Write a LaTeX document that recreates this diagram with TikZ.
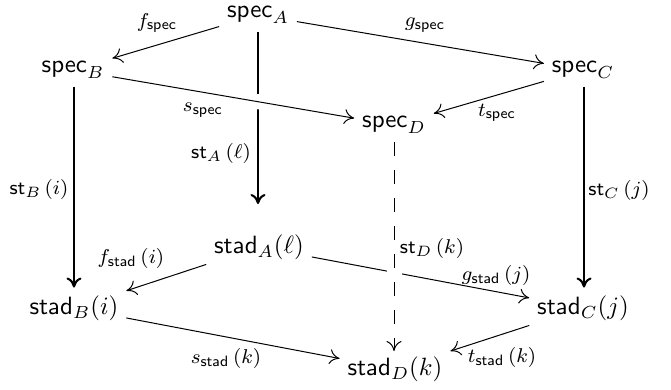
\documentclass[tikz,border=0pt]{standalone}
\usetikzlibrary{arrows.meta}
\begin{document}
\begin{tikzpicture}[x=0.4pt,y=-0.4pt,
  obj/.style={font=\sffamily, inner sep=3pt},
  lbl/.style={font=\footnotesize, inner sep=0pt},
  arr/.style={-{To[length=4pt,width=6pt]}, line width=0.4pt},
  varr/.style={-{To[length=4pt,width=6pt]}, line width=0.8pt},
  front/.style={preaction={draw,white,line width=6pt,-,solid}},
  dsh/.style={dash pattern=on 5.6pt off 5.6pt}]
\useasboundingbox (0,0) rectangle (671,389);
% objects
\node[obj] (sA) at (258,15) {$\mathsf{spec}_A$};
\node[obj] (sB) at (73,70) {$\mathsf{spec}_B$};
\node[obj] (sC) at (583,70) {$\mathsf{spec}_C$};
\node[obj] (sD) at (394,125) {$\mathsf{spec}_D$};
\node[obj] (tA) at (259,247) {$\mathsf{stad}_A(\ell)$};
\node[obj] (tB) at (74,308) {$\mathsf{stad}_B(i)$};
\node[obj] (tC) at (583,308) {$\mathsf{stad}_C(j)$};
\node[obj] (tD) at (395,369) {$\mathsf{stad}_D(k)$};
\coordinate (dtop) at (394,142);
\coordinate (dbot) at (394,351);
% back edges
\draw[varr, shorten >=9pt] (sA.south -| 258,0) -- (tA.north -| 258,0);
\draw[arr] (tA) -- (tC);
% other edges
\draw[arr] (sA) -- (sB);
\draw[arr] (sA) -- (sC);
\draw[arr, front] (sB) -- (sD);
\draw[arr] (sC) -- (sD);
\draw[varr] (sB.south -| 74,0) -- (tB.north -| 74,0);
\draw[varr] (sC.south -| 584,0) -- (tC.north -| 584,0);
\draw[arr, dsh, front] (dtop) -- (dbot);
\draw[arr] (tA) -- (tB);
\draw[arr] (tB) -- (tD);
\draw[arr] (tC) -- (tD);
% labels
\node[lbl] (lf) at (157,23) {$f_{\mathsf{spec}}$};
\node[lbl] (lg) at (425,25) {$g_{\mathsf{spec}}$};
\node[lbl] (ls) at (203,110) {$s_{\mathsf{spec}}$};
\node[lbl] (lt) at (497,113) {$t_{\mathsf{spec}}$};
\node[lbl] (lA) at (221,153) {$\mathsf{st}_A\,(\ell)$};
\node[lbl] (lB) at (39,189) {$\mathsf{st}_B\,(i)$};
\node[lbl] (lC) at (619,190) {$\mathsf{st}_C\,(j)$};
\node[lbl] (lD) at (432,248) {$\mathsf{st}_D\,(k)$};
\node[lbl] (lf2) at (131,258) {$f_{\mathsf{stad}}\,(i)$};
\node[lbl] (lg2) at (496,275) {$g_{\mathsf{stad}}\,(j)$};
\node[lbl] (ls2) at (226,358) {$s_{\mathsf{stad}}\,(k)$};
\node[lbl] (lt2) at (502,357) {$t_{\mathsf{stad}}\,(k)$};
\end{tikzpicture}
\end{document}
